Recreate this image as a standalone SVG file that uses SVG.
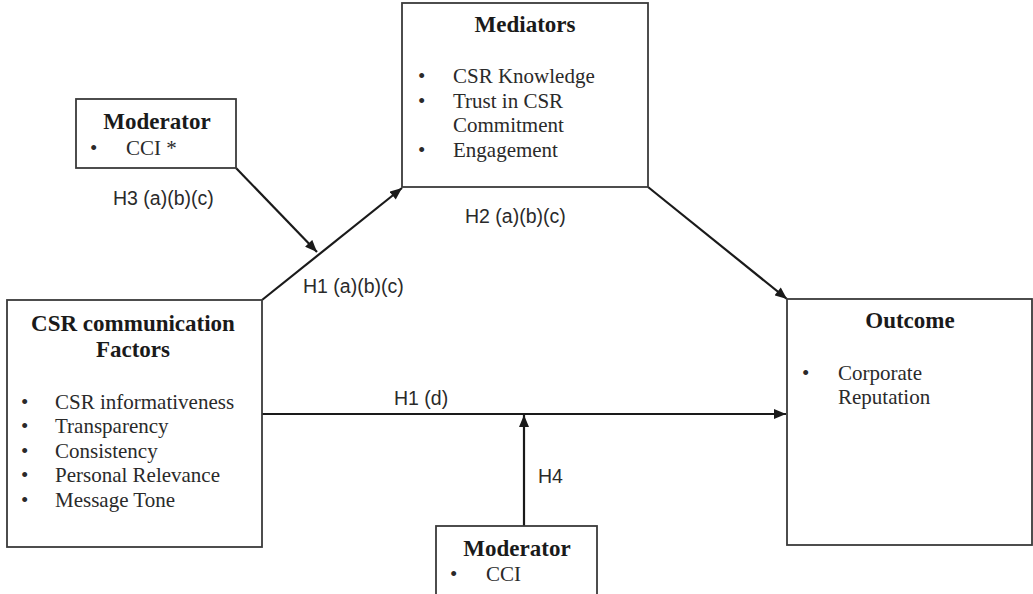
<svg xmlns="http://www.w3.org/2000/svg" width="1033" height="594" viewBox="0 0 1033 594">
<defs>
<style>
.box{fill:#fff;stroke:#3a3a3a;stroke-width:1.8}
.title{font-family:"Liberation Serif",serif;font-weight:bold;font-size:23px;fill:#1a1a1a;text-anchor:middle}
.item{font-family:"Liberation Serif",serif;font-size:21px;fill:#2a2a2a}
.lbl{font-family:"Liberation Sans",Arial,sans-serif;font-size:19.5px;fill:#2a2a2a}
.conn{stroke:#1a1a1a;stroke-width:2.2;fill:none}
</style>
<marker id="ah" viewBox="0 0 12 10" refX="12" refY="5" markerWidth="13" markerHeight="10" markerUnits="userSpaceOnUse" orient="auto">
<path d="M0,0 L12,5 L0,10 Z" fill="#1a1a1a"/>
</marker>
</defs>
<rect width="1033" height="594" fill="#fff"/>
<g id="connectors">
<line class="conn" x1="262" y1="300" x2="402" y2="188" marker-end="url(#ah)"/>
<line class="conn" x1="236" y1="168" x2="317" y2="252" marker-end="url(#ah)"/>
<line class="conn" x1="648" y1="187" x2="787" y2="299" marker-end="url(#ah)"/>
<line class="conn" x1="262" y1="414" x2="786" y2="414" marker-end="url(#ah)"/>
<line class="conn" x1="524" y1="526" x2="524" y2="415" marker-end="url(#ah)"/>
<text class="lbl" x="113" y="205">H3 (a)(b)(c)</text>
<text class="lbl" x="303" y="293">H1 (a)(b)(c)</text>
<text class="lbl" x="465" y="223">H2 (a)(b)(c)</text>
<text class="lbl" x="394" y="405">H1 (d)</text>
<text class="lbl" x="538" y="483">H4</text>
</g>
<g id="csr-factors">
<rect class="box" x="7" y="300" width="255" height="247"/>
<text class="title" x="133" y="331">CSR communication</text>
<text class="title" x="133" y="357">Factors</text>
<text class="item" x="21" y="409">•</text><text class="item" x="55" y="409">CSR informativeness</text>
<text class="item" x="21" y="433">•</text><text class="item" x="55" y="433">Transparency</text>
<text class="item" x="21" y="458">•</text><text class="item" x="55" y="458">Consistency</text>
<text class="item" x="21" y="482">•</text><text class="item" x="55" y="482">Personal Relevance</text>
<text class="item" x="21" y="507">•</text><text class="item" x="55" y="507">Message Tone</text>
</g>
<g id="mediators">
<rect class="box" x="402" y="3" width="246" height="184"/>
<text class="title" x="525" y="32">Mediators</text>
<text class="item" x="418" y="83">•</text><text class="item" x="453" y="83">CSR Knowledge</text>
<text class="item" x="418" y="108">•</text><text class="item" x="453" y="108">Trust in CSR</text>
<text class="item" x="453" y="132">Commitment</text>
<text class="item" x="418" y="157">•</text><text class="item" x="453" y="157">Engagement</text>
</g>
<g id="moderator-top">
<rect class="box" x="76" y="99" width="160" height="69"/>
<text class="title" x="157" y="129">Moderator</text>
<text class="item" x="90" y="155">•</text><text class="item" x="126" y="155">CCI *</text>
</g>
<g id="outcome">
<rect class="box" x="787" y="299" width="245" height="246"/>
<text class="title" x="910" y="328">Outcome</text>
<text class="item" x="802" y="380">•</text><text class="item" x="838" y="380">Corporate</text>
<text class="item" x="838" y="404">Reputation</text>
</g>
<g id="moderator-bottom">
<rect class="box" x="436" y="526" width="161" height="70"/>
<text class="title" x="517" y="556">Moderator</text>
<text class="item" x="450" y="581">•</text><text class="item" x="486" y="581">CCI</text>
</g>
</svg>
